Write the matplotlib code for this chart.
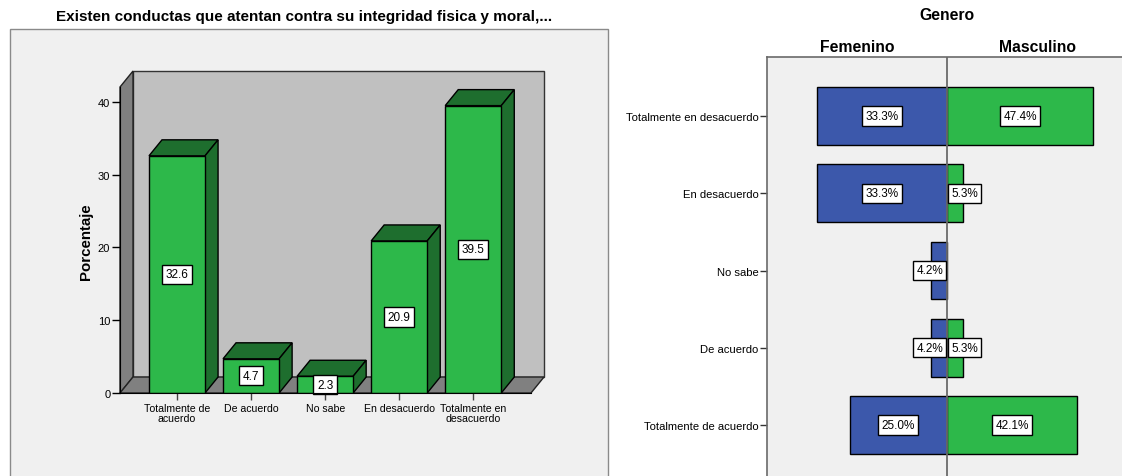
import numpy as np
import matplotlib
matplotlib.use('Agg')
import matplotlib.pyplot as plt
from matplotlib.patches import Rectangle, Polygon

plt.rcParams['font.family'] = ['Liberation Sans', 'DejaVu Sans']

# left chart: percentages per answer
CATEGORIES = ['Totalmente de\nacuerdo', 'De acuerdo', 'No sabe', 'En desacuerdo', 'Totalmente en\ndesacuerdo']
PERCENTS = [32.6, 4.7, 2.3, 20.9, 39.5]
Y_TICKS = [0, 10, 20, 30, 40]

# right chart: counts per gender (labels shown as % of gender total)
ROWS = ['Totalmente en desacuerdo', 'En desacuerdo', 'No sabe', 'De acuerdo', 'Totalmente de acuerdo']
FEMENINO = [8, 8, 1, 1, 6]
MASCULINO = [9, 1, 0, 1, 8]

GREEN = '#2db84a'
DARK_GREEN = '#1e6e2e'
BLUE = '#3c58ab'
BG = '#f0f0f0'

W, H = 1122, 477
fig = plt.figure(figsize=(W / 100, H / 100), dpi=100, facecolor='white')

# frame of the left chart
fig.patches.append(Rectangle((10 / W, -0.05), 598 / W, (H - 30) / H + 0.05,
                             transform=fig.transFigure, facecolor=BG,
                             edgecolor='#8a8a8a', linewidth=1, zorder=-5))

fig.text(304 / W, 1 - 17 / H, 'Existen conductas que atentan contra su integridad fisica y moral,...',
         ha='center', va='center', fontsize=11, fontweight='bold')

# ---- left: pseudo 3d bars ----
ax1 = fig.add_axes([120 / W, 83 / H, 411 / W, 306 / H])
ax1.set_facecolor('none')
x0, x1 = -0.77, 4.78
top = 42.06
ax1.set_xlim(x0, x1)
ax1.set_ylim(0, top)
dx = 13 / 74.0
dy = 16 / 7.275
bw = 0.757

ax1.add_patch(Rectangle((x0 + dx, dy), x1 - x0, top, facecolor='#c0c0c0',
                        edgecolor='#333333', linewidth=1, clip_on=False, zorder=0.5))
ax1.add_patch(Polygon([(x0, 0), (x0 + dx, dy), (x0 + dx, top + dy), (x0, top)], closed=True,
                      facecolor='#808080', edgecolor='#222222', linewidth=1, clip_on=False, zorder=0.6))
ax1.add_patch(Polygon([(x0, 0), (x1, 0), (x1 + dx, dy), (x0 + dx, dy)], closed=True,
                      facecolor='#808080', edgecolor='#222222', linewidth=1, clip_on=False, zorder=0.6))

xs = np.arange(len(PERCENTS))
for i, v in zip(xs, PERCENTS):
    l, r = i - bw / 2, i + bw / 2
    ax1.add_patch(Polygon([(l, v), (r, v), (r + dx, v + dy), (l + dx, v + dy)], closed=True,
                          facecolor=DARK_GREEN, edgecolor='black', linewidth=1, clip_on=False, zorder=2))
    ax1.add_patch(Polygon([(r, 0), (r + dx, dy), (r + dx, v + dy), (r, v)], closed=True,
                          facecolor=DARK_GREEN, edgecolor='black', linewidth=1, clip_on=False, zorder=2))
    ax1.bar(i, v, width=bw, color=GREEN, edgecolor='black', linewidth=1, zorder=3)
    ax1.text(i, v / 2, f'{v}', ha='center', va='center', fontsize=8.5, zorder=4,
             bbox=dict(boxstyle='square,pad=0.3', facecolor='white', edgecolor='black', linewidth=1))

for s in ['top', 'right']:
    ax1.spines[s].set_visible(False)
ax1.spines['left'].set_color('black')
ax1.spines['bottom'].set_color('black')
ax1.spines['left'].set_zorder(5)
ax1.spines['bottom'].set_zorder(5)
ax1.set_yticks(Y_TICKS)
ax1.set_xticks(xs)
ax1.set_xticklabels(CATEGORIES, fontsize=7.6, linespacing=1.0)
ax1.tick_params(axis='y', length=6, width=1, labelsize=8, pad=1)
ax1.tick_params(axis='x', length=5, width=1, pad=2, color='#444444')

fig.text(86 / W, 1 - 242 / H, 'Porcentaje', rotation=90, ha='center', va='center',
         fontsize=10.8, fontweight='bold')

# ---- right: back to back bars ----
ax2 = fig.add_axes([767 / W, -8 / H, 360 / W, 427 / H])
ax2.set_facecolor(BG)
ys = np.arange(len(ROWS))
ax2.set_xlim(-11.08, 11.08)
ax2.set_ylim(len(ROWS) - 1 + 0.764, -0.764)

fem = np.array(FEMENINO)
mas = np.array(MASCULINO)
ax2.barh(ys, -fem, height=0.75, color=BLUE, edgecolor='black', linewidth=1, zorder=2)
ax2.barh(ys[mas > 0], mas[mas > 0], height=0.75, color=GREEN, edgecolor='black', linewidth=1, zorder=2)
ax2.axvline(0, color='#6a6a6a', linewidth=1.3, zorder=3)

box = dict(boxstyle='square,pad=0.3', facecolor='white', edgecolor='black', linewidth=1)
for y, f, m in zip(ys, fem, mas):
    if f > 0:
        txt = f'{100 * f / fem.sum():.1f}%'
        if f >= 3:
            ax2.text(-f / 2, y, txt, ha='center', va='center', fontsize=8.5, bbox=box, zorder=4)
        else:
            ax2.text(-0.25, y, txt, ha='right', va='center', fontsize=8.5, bbox=box, zorder=4)
    if m > 0:
        txt = f'{100 * m / mas.sum():.1f}%'
        if m >= 3:
            ax2.text(m / 2, y, txt, ha='center', va='center', fontsize=8.5, bbox=box, zorder=4)
        else:
            ax2.text(0.25, y, txt, ha='left', va='center', fontsize=8.5, bbox=box, zorder=4)

for s in ax2.spines.values():
    s.set_color('#6a6a6a')
    s.set_linewidth(1.2)
ax2.set_xticks([])
ax2.set_yticks(ys)
ax2.set_yticklabels(ROWS, fontsize=8.1)
ax2.tick_params(axis='y', length=5, width=1, pad=1, color='#333333')

ax2.text(0.5, 1 + 42 / 427, 'Genero', transform=ax2.transAxes, ha='center', va='center',
         fontsize=11.3, fontweight='bold')
ax2.text(0.25, 1 + 11 / 427, 'Femenino', transform=ax2.transAxes, ha='center', va='center',
         fontsize=11.3, fontweight='bold')
ax2.text(0.75, 1 + 11 / 427, 'Masculino', transform=ax2.transAxes, ha='center', va='center',
         fontsize=11.3, fontweight='bold')

fig.savefig('out.png', dpi=100, facecolor='white')
